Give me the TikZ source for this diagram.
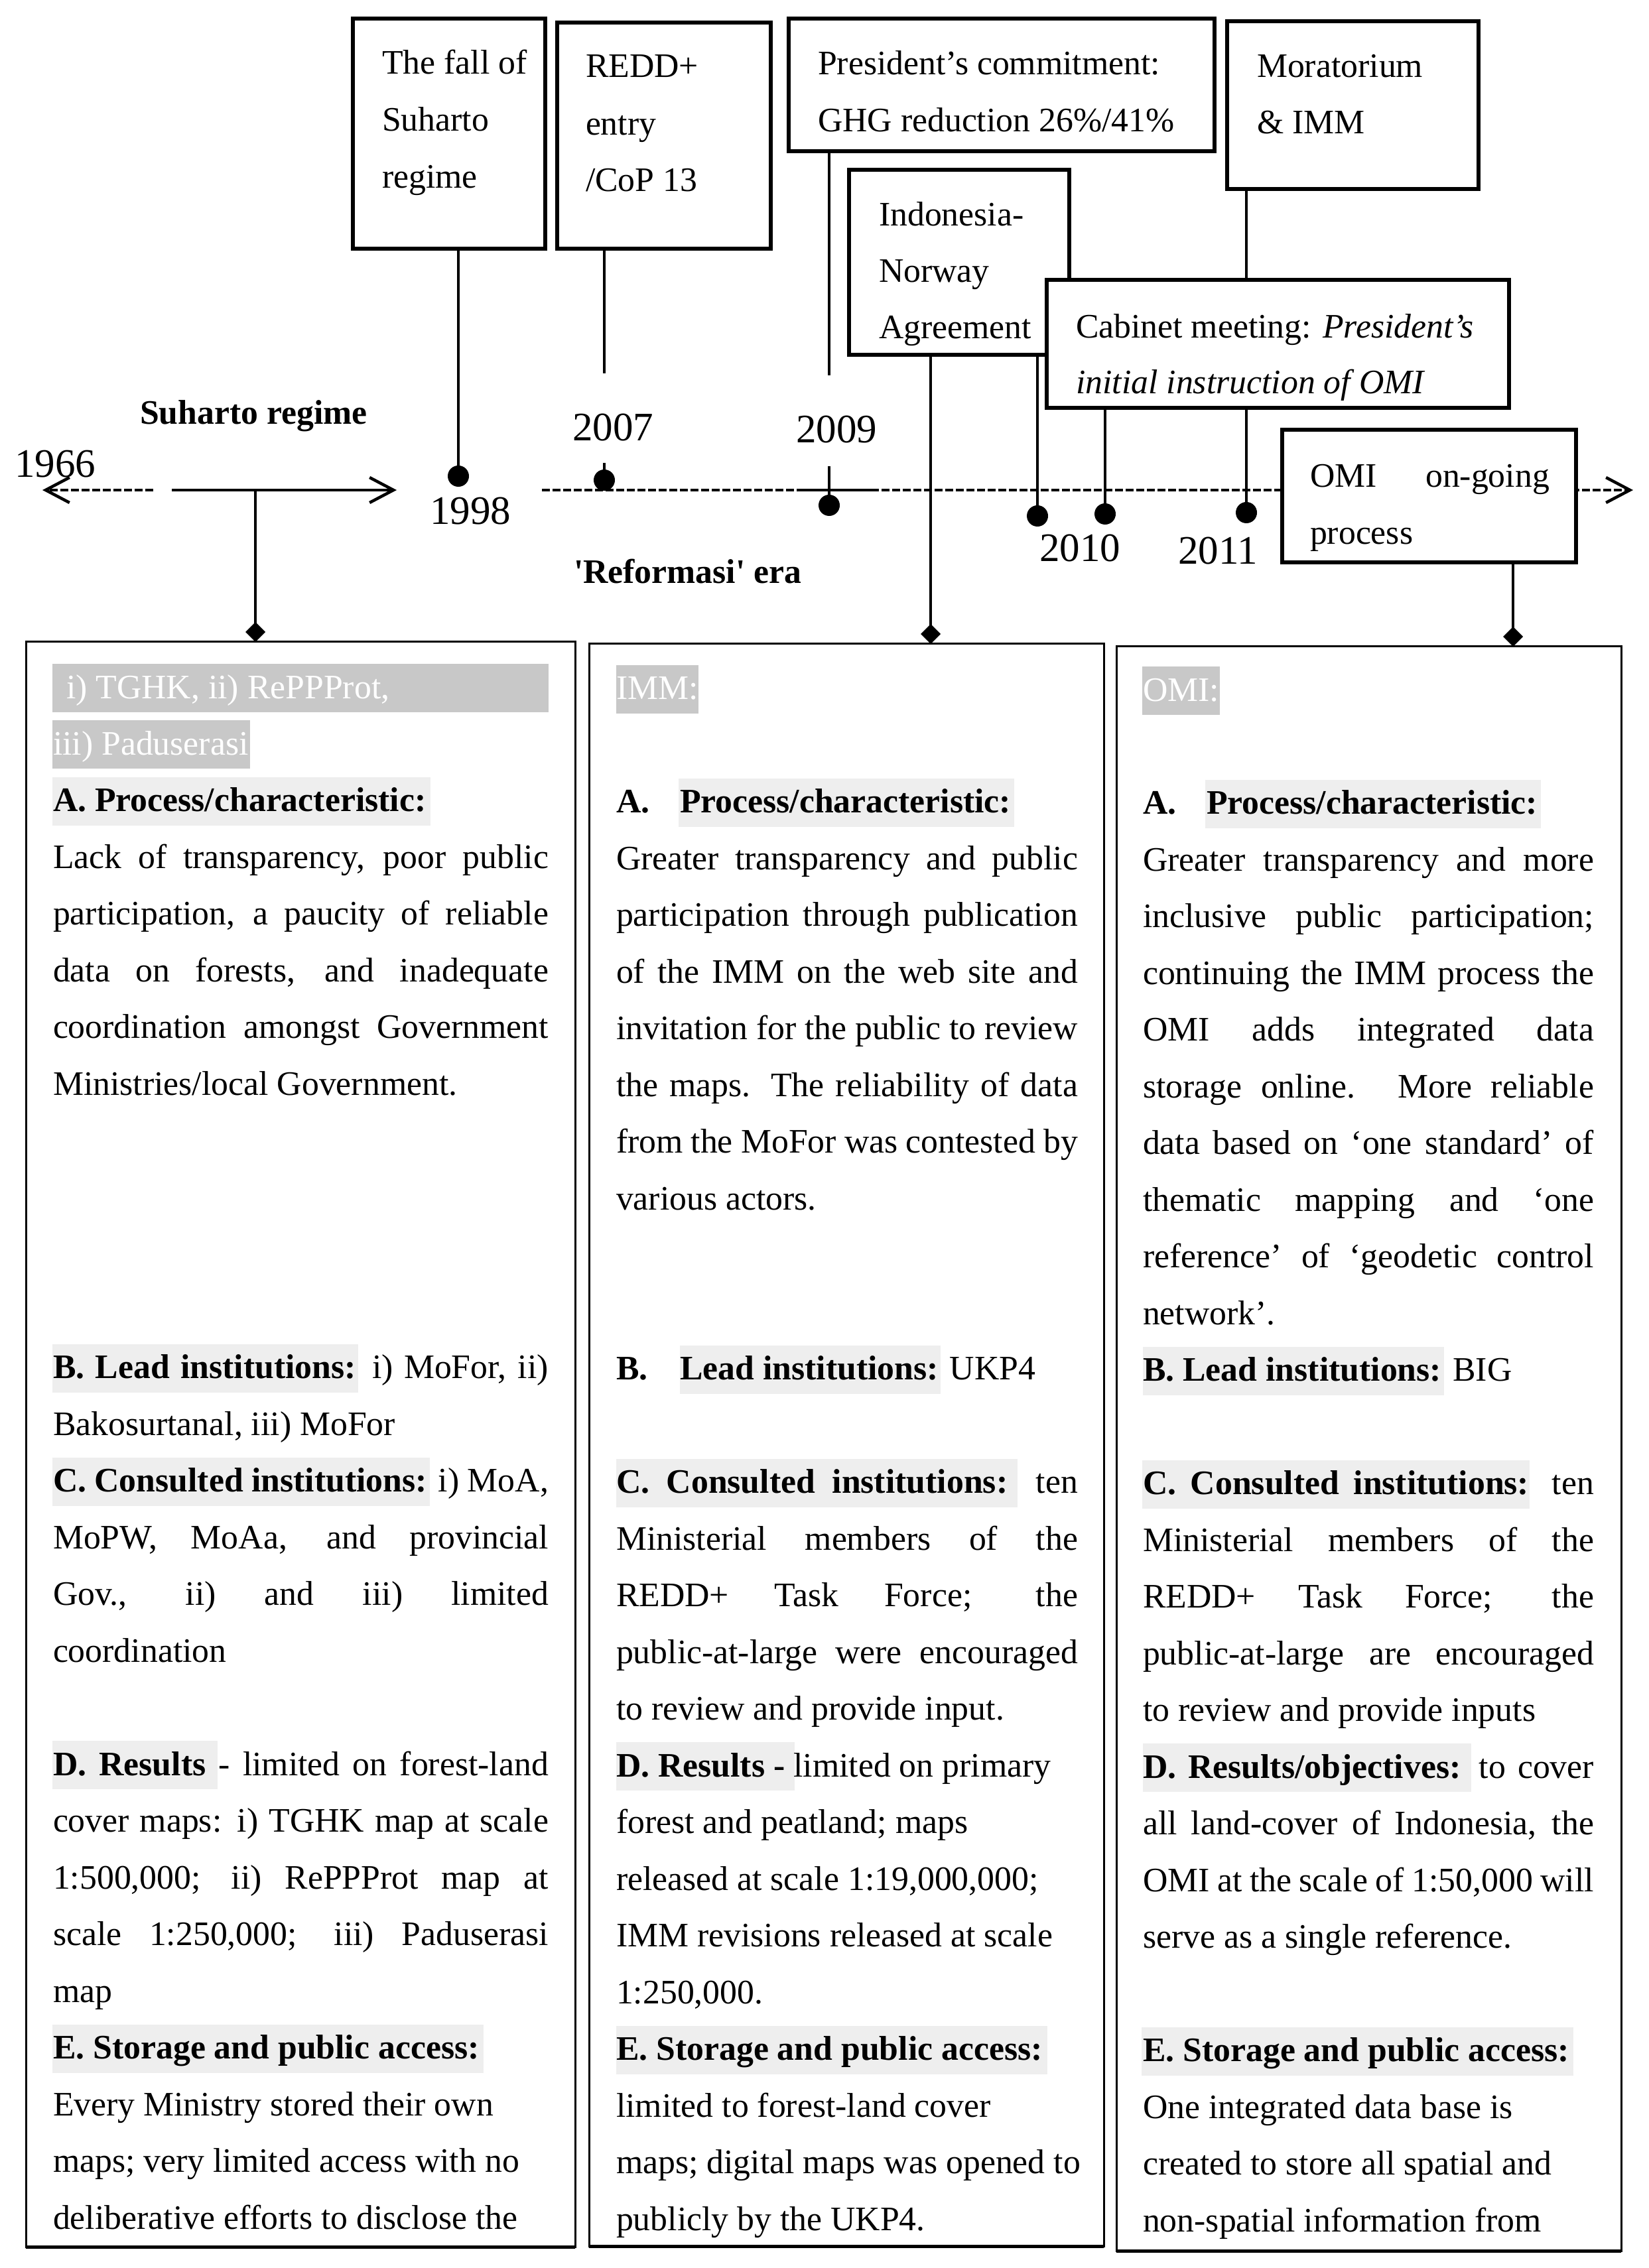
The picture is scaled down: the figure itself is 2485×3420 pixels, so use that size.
\documentclass[tikz,border=0pt]{standalone}
\usepackage{fontspec}
\setmainfont{Liberation Serif}
\newfontfamily\rawserif{Liberation Serif}[Ligatures=TeXOff]
\usetikzlibrary{arrows.meta}
\pgfdeclarelayer{bg}
\pgfdeclarelayer{lines}
\pgfsetlayers{bg,lines,main}
\newlength\upx \setlength\upx{0.2pt}
\definecolor{hlD}{HTML}{C8C8C8}
\definecolor{hlL}{HTML}{EEEEEE}
\newcommand\JL[2]{\makebox[#1\upx][s]{#2}}
\newcommand\sq{{\rawserif '}}
\def\xA{80}\def\xB{929}\def\xC{1723}
\def\baseA{1053}\def\baseB{1055}\def\baseC{1057}
\def\lsp{85.48}
\newcommand\HLR[5]{\fill[#1] (#2,{#4+\lsp*#5-52}) rectangle (#3,{#4+\lsp*#5+21});}
\newcommand\TLN[5]{\node[txt] (#1) at (#2,{#3+\lsp*#4}) {#5};}
\begin{document}
\begin{tikzpicture}[x=0.2pt,y=-0.2pt,
  txt/.style={anchor=base west, inner sep=0pt, outer sep=0pt, font=\fontsize{10.35pt}{17pt}\selectfont},
  yr/.style={anchor=base west, inner sep=0pt, outer sep=0pt, font=\fontsize{12.2pt}{14pt}\selectfont},
  evbox/.style={draw, line width=1.2pt, fill=white, anchor=north west, inner sep=0pt, outer sep=0pt},
  colbox/.style={draw, line width=0.6pt, anchor=north west, inner sep=0pt, outer sep=0pt},
  conn/.style={line width=0.8pt},
  tlsolid/.style={line width=0.9pt},
  tldash/.style={line width=0.9pt, dash pattern=on 2.4pt off 0.8pt},
  dot/.style={circle, fill=black, inner sep=0pt, outer sep=0pt, minimum size=6.4pt},
  barb/.style={-{Straight Barb[length=7.2pt,width=7.6pt]}},
  dia/.style={-{Diamond[length=6pt,width=6pt]}}
]
\useasboundingbox (0,0) rectangle (2485,3420);
\begin{pgfonlayer}{bg}
\fill[white] (0,0) rectangle (2485,3420);
\end{pgfonlayer}

% ---------- event boxes ----------
\node[evbox, minimum width=58pt, minimum height=69.4pt] (b1) at (532,28) {};
\node[evbox, minimum width=64.4pt, minimum height=68.2pt] (b2) at (840,34) {};
\node[evbox, minimum width=128.4pt, minimum height=40pt] (b3) at (1189,28) {};
\node[evbox, minimum width=75.8pt, minimum height=50.6pt] (b4) at (1850,32) {};
\node[evbox, minimum width=66.4pt, minimum height=55.8pt] (b5) at (1280,256) {};
\node[evbox, minimum width=139.4pt, minimum height=38.6pt] (b6) at (1578,422) {};
\node[evbox, minimum width=88.6pt, minimum height=40pt] (omi) at (1933,648) {};

% ---------- columns ----------
\node[colbox, minimum width=165.6pt, minimum height=484pt] (c1) at (39,968) {};
\node[colbox, minimum width=155.2pt, minimum height=483.2pt] (c2) at (888,971) {};
\node[colbox, minimum width=152.2pt, minimum height=483.8pt] (c3) at (1683,975) {};
\draw[line width=1pt] (c1.south west) -- (c1.south east);
\draw[line width=1pt] (c2.south west) -- (c2.south east);
\draw[line width=1pt] (c3.south west) -- (c3.south east);

% ---------- dots ----------
\node[dot] (d98) at (691,718) {};
\node[dot] (d07) at (911,724) {};
\node[dot] (d09) at (1250,762) {};
\node[dot] (d10a) at (1564,778) {};
\node[dot] (d10b) at (1666,775) {};
\node[dot] (d11) at (1879,773) {};

% ---------- timeline coordinates ----------
\coordinate (tlA0) at (231,739);
\coordinate (tlA1) at (64,739);
\coordinate (tlB0) at (259,739);
\coordinate (tlB1) at (598,739);
\coordinate (tlC0) at (817,739);
\coordinate (tlC1) at (2462,739);
\coordinate (tlS0) at (1212,739);
\coordinate (tlS1) at (1324,739);
\coordinate (t07a) at (911,563);
\coordinate (t07b) at (911,698);
\coordinate (t09a) at (1250,566);
\coordinate (t09b) at (1250,703);
\coordinate (lsrc) at (385,741);
\coordinate (imx) at (1403,0);
\coordinate (omx) at (2281,0);

\begin{pgfonlayer}{lines}
\draw[tldash, barb] (tlA0) -- (tlA1);
\draw[tlsolid, barb] (tlB0) -- (tlB1);
\draw[tldash, barb] (tlC0) -- (tlC1);
\draw[tlsolid] (tlS0) -- (tlS1);
\draw[conn] (b1.south -| d98) -- (d98.center);
\draw[conn] (b2.south -| d07) -- (t07a);
\draw[conn] (t07b) -- (d07.center);
\draw[conn] (b3.south -| d09) -- (t09a);
\draw[conn] (t09b) -- (d09.center);
\draw[conn] (b4.south -| d11) -- (d11.center);
\draw[conn] (b5.south -| d10a) -- (d10a.center);
\draw[conn] (b6.south -| d10b) -- (d10b.center);
\draw[conn, dia] (lsrc) -- (lsrc |- c1.north);
\draw[conn, dia] (b5.south -| imx) -- (imx |- c2.north);
\draw[conn, dia] (omi.south -| omx) -- (omx |- c3.north);
\end{pgfonlayer}

% ---------- timeline labels ----------
\node[yr] (y66) at (22,720) {1966};
\node[yr] (y98) at (648,791) {1998};
\node[yr] (y07) at (863,665) {2007};
\node[yr] (y09) at (1200,668) {2009};
\node[yr] (y10) at (1567,847) {2010};
\node[yr] (y11) at (1776,851) {2011};
\node[txt] (era1) at (211,640) {\textbf{Suharto regime}};
\node[txt] (era2) at (865,880) {\textbf{\sq Reformasi\sq{} era}};

% ---------- event box texts ----------
\node[txt] (t1a) at (576,112) {The fall of};
\node[txt] (t1b) at (576,198) {Suharto};
\node[txt] (t1c) at (576,284) {regime};
\node[txt] (t2a) at (883,117) {REDD+};
\node[txt] (t2b) at (883,204) {entry};
\node[txt] (t2c) at (883,289) {/CoP 13};
\node[txt] (t3a) at (1233,113) {President’s commitment:};
\node[txt] (t3b) at (1233,199) {GHG reduction 26\%/41\%};
\node[txt] (t4a) at (1895,117) {Moratorium};
\node[txt] (t4b) at (1895,202) {\& IMM};
\node[txt] (t5a) at (1325,341) {Indonesia-};
\node[txt] (t5b) at (1325,426) {Norway};
\node[txt] (t5c) at (1325,511) {Agreement};
\node[txt] (t6a) at (1622,510) {Cabinet meeting: \textit{President’s}};
\node[txt] (t6b) at (1622,594) {\textit{initial instruction of OMI}};
\node[txt] (t7a) at (1975,735) {\JL{361}{OMI on-going}};
\node[txt] (t7b) at (1975,821) {process};

% ---------- column 1 ----------
\HLR{hlD}{79}{827}{\baseA}{0}
\HLR{hlD}{79}{377}{\baseA}{1}
\HLR{hlL}{79}{649}{\baseA}{2}
\HLR{hlL}{79}{540}{\baseA}{12}
\HLR{hlL}{79}{648}{\baseA}{14}
\HLR{hlL}{79}{328}{\baseA}{19}
\HLR{hlL}{79}{729}{\baseA}{24}
\TLN{a0}{100}{\baseA}{0}{\textcolor{white}{i) TGHK, ii) RePPProt,}}
\TLN{a1}{\xA}{\baseA}{1}{\textcolor{white}{iii) Paduserasi}}
\TLN{a2}{\xA}{\baseA}{2}{\textbf{A. Process/characteristic:}}
\TLN{a3}{\xA}{\baseA}{3}{\JL{747}{Lack of transparency, poor public}}
\TLN{a4}{\xA}{\baseA}{4}{\JL{747}{participation, a paucity of reliable}}
\TLN{a5}{\xA}{\baseA}{5}{\JL{747}{data on forests, and inadequate}}
\TLN{a6}{\xA}{\baseA}{6}{\JL{747}{coordination amongst Government}}
\TLN{a7}{\xA}{\baseA}{7}{Ministries/local Government.}
\TLN{a12}{\xA}{\baseA}{12}{\JL{747}{\textbf{B. Lead institutions:} i) MoFor, ii)}}
\TLN{a13}{\xA}{\baseA}{13}{Bakosurtanal, iii) MoFor}
\TLN{a14}{\xA}{\baseA}{14}{\JL{747}{\textbf{C. Consulted institutions:} i) MoA,}}
\TLN{a15}{\xA}{\baseA}{15}{\JL{747}{MoPW, MoAa, and provincial}}
\TLN{a16}{\xA}{\baseA}{16}{\JL{747}{Gov., ii) and iii) limited}}
\TLN{a17}{\xA}{\baseA}{17}{coordination}
\TLN{a19}{\xA}{\baseA}{19}{\JL{747}{\textbf{D. Results} - limited on forest-land}}
\TLN{a20}{\xA}{\baseA}{20}{\JL{747}{cover maps: i) TGHK map at scale}}
\TLN{a21}{\xA}{\baseA}{21}{\JL{747}{1:500,000; ii) RePPProt map at}}
\TLN{a22}{\xA}{\baseA}{22}{\JL{747}{scale 1:250,000; iii) Paduserasi}}
\TLN{a23}{\xA}{\baseA}{23}{map}
\TLN{a24}{\xA}{\baseA}{24}{\textbf{E. Storage and public access:}}
\TLN{a25}{\xA}{\baseA}{25}{Every Ministry stored their own}
\TLN{a26}{\xA}{\baseA}{26}{maps; very limited access with no}
\TLN{a27}{\xA}{\baseA}{27}{deliberative efforts to disclose the}

% ---------- column 2 ----------
\HLR{hlD}{929}{1053}{\baseB}{0}
\HLR{hlL}{1023}{1529}{\baseB}{2}
\HLR{hlL}{1025}{1418}{\baseB}{12}
\HLR{hlL}{929}{1534}{\baseB}{14}
\HLR{hlL}{929}{1198}{\baseB}{19}
\HLR{hlL}{929}{1579}{\baseB}{24}
\TLN{m0}{\xB}{\baseB}{0}{\textcolor{white}{IMM:}}
\TLN{m2a}{\xB}{\baseB}{2}{\textbf{A.}}
\TLN{m2b}{1025}{\baseB}{2}{\textbf{Process/characteristic:}}
\TLN{m3}{\xB}{\baseB}{3}{\JL{696}{Greater transparency and public}}
\TLN{m4}{\xB}{\baseB}{4}{\JL{696}{participation through publication}}
\TLN{m5}{\xB}{\baseB}{5}{\JL{696}{of the IMM on the web site and}}
\TLN{m6}{\xB}{\baseB}{6}{\JL{696}{invitation for the public to review}}
\TLN{m7}{\xB}{\baseB}{7}{\JL{696}{the maps. The reliability of data}}
\TLN{m8}{\xB}{\baseB}{8}{\JL{696}{from the MoFor was contested by}}
\TLN{m9}{\xB}{\baseB}{9}{various actors.}
\TLN{m12a}{\xB}{\baseB}{12}{\textbf{B.}}
\TLN{m12b}{1025}{\baseB}{12}{\textbf{Lead institutions:} UKP4}
\TLN{m14}{\xB}{\baseB}{14}{\JL{696}{\textbf{C. Consulted institutions:} ten}}
\TLN{m15}{\xB}{\baseB}{15}{\JL{696}{Ministerial members of the}}
\TLN{m16}{\xB}{\baseB}{16}{\JL{696}{REDD+ Task Force; the}}
\TLN{m17}{\xB}{\baseB}{17}{\JL{696}{public-at-large were encouraged}}
\TLN{m18}{\xB}{\baseB}{18}{to review and provide input.}
\TLN{m19}{\xB}{\baseB}{19}{\textbf{D. Results -} limited on primary}
\TLN{m20}{\xB}{\baseB}{20}{forest and peatland; maps}
\TLN{m21}{\xB}{\baseB}{21}{released at scale 1:19,000,000;}
\TLN{m22}{\xB}{\baseB}{22}{IMM revisions released at scale}
\TLN{m23}{\xB}{\baseB}{23}{1:250,000.}
\TLN{m24}{\xB}{\baseB}{24}{\textbf{E. Storage and public access:}}
\TLN{m25}{\xB}{\baseB}{25}{limited to forest-land cover}
\TLN{m26}{\xB}{\baseB}{26}{maps; digital maps was opened to}
\TLN{m27}{\xB}{\baseB}{27}{publicly by the UKP4.}

% ---------- column 3 ----------
\HLR{hlD}{1722}{1839}{\baseC}{0}
\HLR{hlL}{1817}{2323}{\baseC}{2}
\HLR{hlL}{1723}{2177}{\baseC}{12}
\HLR{hlL}{1722}{2306}{\baseC}{14}
\HLR{hlL}{1723}{2218}{\baseC}{19}
\HLR{hlL}{1721}{2372}{\baseC}{24}
\TLN{o0}{\xC}{\baseC}{0}{\textcolor{white}{OMI:}}
\TLN{o2a}{\xC}{\baseC}{2}{\textbf{A.}}
\TLN{o2b}{1819}{\baseC}{2}{\textbf{Process/characteristic:}}
\TLN{o3}{\xC}{\baseC}{3}{\JL{680}{Greater transparency and more}}
\TLN{o4}{\xC}{\baseC}{4}{\JL{680}{inclusive public participation;}}
\TLN{o5}{\xC}{\baseC}{5}{\JL{680}{continuing the IMM process the}}
\TLN{o6}{\xC}{\baseC}{6}{\JL{680}{OMI adds integrated data}}
\TLN{o7}{\xC}{\baseC}{7}{\JL{680}{storage online. More reliable}}
\TLN{o8}{\xC}{\baseC}{8}{\JL{680}{data based on ‘one standard’ of}}
\TLN{o9}{\xC}{\baseC}{9}{\JL{680}{thematic mapping and ‘one}}
\TLN{o10}{\xC}{\baseC}{10}{\JL{680}{reference’ of ‘geodetic control}}
\TLN{o11}{\xC}{\baseC}{11}{network’.}
\TLN{o12}{\xC}{\baseC}{12}{\textbf{B. Lead institutions:} BIG}
\TLN{o14}{\xC}{\baseC}{14}{\JL{680}{\textbf{C. Consulted institutions:} ten}}
\TLN{o15}{\xC}{\baseC}{15}{\JL{680}{Ministerial members of the}}
\TLN{o16}{\xC}{\baseC}{16}{\JL{680}{REDD+ Task Force; the}}
\TLN{o17}{\xC}{\baseC}{17}{\JL{680}{public-at-large are encouraged}}
\TLN{o18}{\xC}{\baseC}{18}{to review and provide inputs}
\TLN{o19}{\xC}{\baseC}{19}{\JL{680}{\textbf{D. Results/objectives:} to cover}}
\TLN{o20}{\xC}{\baseC}{20}{\JL{680}{all land-cover of Indonesia, the}}
\TLN{o21}{\xC}{\baseC}{21}{\JL{680}{OMI at the scale of 1:50,000 will}}
\TLN{o22}{\xC}{\baseC}{22}{serve as a single reference.}
\TLN{o24}{\xC}{\baseC}{24}{\textbf{E. Storage and public access:}}
\TLN{o25}{\xC}{\baseC}{25}{One integrated data base is}
\TLN{o26}{\xC}{\baseC}{26}{created to store all spatial and}
\TLN{o27}{\xC}{\baseC}{27}{non-spatial information from}
\end{tikzpicture}
\end{document}
